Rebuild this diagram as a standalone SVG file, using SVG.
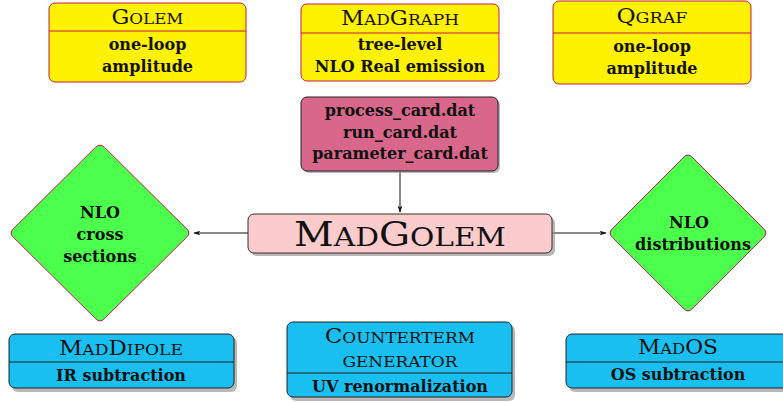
<svg xmlns="http://www.w3.org/2000/svg" width="783" height="403" viewBox="0 0 783 403">
<style>
.yel{fill:#fff200;stroke:#c8174f;stroke-width:1}
.div{stroke-width:1;fill:none}
.ydiv{stroke:#c8174f}
.bdiv{stroke:#222}
.blue{fill:#19bff0;stroke:#222;stroke-width:1}
.card{fill:#d9678c;stroke:#222;stroke-width:1}
.mg{fill:#fccbcb;stroke:#333;stroke-width:1}
.shadow{fill:#9a9a9a;opacity:0.7}
.dia{fill:#4cff4c;stroke:#c8174f;stroke-width:1}
.t{font-family:"DejaVu Serif","Liberation Serif",serif;fill:#111;text-anchor:middle}
.b{font-family:"DejaVu Serif","Liberation Serif",serif;font-weight:bold;font-size:16px;fill:#111;text-anchor:middle}
.conn{stroke:#111;stroke-width:1;fill:none}
</style>
<defs>
<marker id="arr" viewBox="0 0 10 10" refX="9" refY="5" markerWidth="7" markerHeight="7" orient="auto" markerUnits="userSpaceOnUse">
<path d="M0,1.5 L10,5 L0,8.5 L2.5,5 Z" fill="#111"/>
</marker>
</defs>

<g id="connectors">
<line class="conn" x1="400" y1="171" x2="400" y2="212" marker-end="url(#arr)"/>
<line class="conn" x1="248" y1="233" x2="194" y2="233" marker-end="url(#arr)"/>
<line class="conn" x1="552" y1="233" x2="606" y2="233" marker-end="url(#arr)"/>
</g>

<g id="golem">
<rect class="yel" x="49" y="3" width="197" height="79" rx="6"/>
<line class="div ydiv" x1="49" y1="31" x2="246" y2="31"/>
<text class="t" x="147.5" y="24" font-size="20" textLength="72" lengthAdjust="spacingAndGlyphs">G<tspan font-size="15">OLEM</tspan></text>
<text class="b" x="147.5" y="50">one-loop</text>
<text class="b" x="147.5" y="72">amplitude</text>
</g>

<g id="madgraph">
<rect class="yel" x="301" y="4" width="198" height="77" rx="6"/>
<line class="div ydiv" x1="301" y1="33" x2="499" y2="33"/>
<text class="t" x="400" y="25" font-size="20" textLength="118" lengthAdjust="spacingAndGlyphs">M<tspan font-size="15">AD</tspan>G<tspan font-size="15">RAPH</tspan></text>
<text class="b" x="400" y="50">tree-level</text>
<text class="b" x="400" y="72">NLO Real emission</text>
</g>

<g id="qgraf">
<rect class="yel" x="553" y="1" width="198" height="83" rx="6"/>
<line class="div ydiv" x1="553" y1="33" x2="751" y2="33"/>
<text class="t" x="652" y="23" font-size="20" textLength="71" lengthAdjust="spacingAndGlyphs">Q<tspan font-size="15">GRAF</tspan></text>
<text class="b" x="652" y="52">one-loop</text>
<text class="b" x="652" y="74">amplitude</text>
</g>

<g id="cards">
<rect class="shadow" x="303" y="99" width="197" height="74" rx="6"/>
<rect class="card" x="301" y="97" width="197" height="74" rx="6"/>
<text class="b" x="400" y="116">process_card.dat</text>
<text class="b" x="400" y="138">run_card.dat</text>
<text class="b" x="400" y="159">parameter_card.dat</text>
</g>

<g id="madgolem">
<rect class="shadow" x="251" y="217" width="304" height="39" rx="6"/>
<rect class="mg" x="248" y="214" width="304" height="39" rx="6"/>
<text class="t" x="400" y="246" font-size="34" textLength="212" lengthAdjust="spacingAndGlyphs">M<tspan font-size="26">AD</tspan>G<tspan font-size="26">OLEM</tspan></text>
</g>

<g id="nlo-cross-sections">
<path class="dia" d="M104.3,147.2 L186.7,228.8 Q191,233 186.7,237.2 L104.3,318.8 Q100,323 95.7,318.8 L13.3,237.2 Q9,233 13.3,228.8 L95.7,147.2 Q100,143 104.3,147.2 Z"/>
<text class="b" x="100" y="218">NLO</text>
<text class="b" x="100" y="240">cross</text>
<text class="b" x="100" y="262">sections</text>
</g>

<g id="nlo-distributions">
<path class="dia" d="M692.2,157.2 L763.8,228.8 Q768,233 763.8,237.2 L692.2,308.8 Q688,313 683.8,308.8 L612.2,237.2 Q608,233 612.2,228.8 L683.8,157.2 Q688,153 692.2,157.2 Z"/>
<text class="b" x="689" y="228">NLO</text>
<text class="b" x="693" y="250">distributions</text>
</g>

<g id="maddipole">
<rect class="shadow" x="12" y="337" width="225" height="55" rx="6"/>
<rect class="blue" x="9" y="334" width="225" height="54" rx="6"/>
<line class="div bdiv" x1="9" y1="362" x2="234" y2="362"/>
<text class="t" x="121" y="355" font-size="20" textLength="124" lengthAdjust="spacingAndGlyphs">M<tspan font-size="15">AD</tspan>D<tspan font-size="15">IPOLE</tspan></text>
<text class="b" x="121" y="381">IR subtraction</text>
</g>

<g id="counterterm">
<rect class="shadow" x="290" y="325" width="225" height="76" rx="6"/>
<rect class="blue" x="287" y="322" width="225" height="75" rx="6"/>
<line class="div bdiv" x1="287" y1="373" x2="512" y2="373"/>
<text class="t" x="400" y="343" font-size="20" textLength="150" lengthAdjust="spacingAndGlyphs">C<tspan font-size="15">OUNTERTERM</tspan></text>
<text class="t" x="400" y="367" font-size="15" textLength="115" lengthAdjust="spacingAndGlyphs">GENERATOR</text>
<text class="b" x="400" y="392">UV renormalization</text>
</g>

<g id="mados">
<rect class="shadow" x="569" y="337" width="225" height="55" rx="6"/>
<rect class="blue" x="566" y="334" width="225" height="54" rx="6"/>
<line class="div bdiv" x1="566" y1="362" x2="791" y2="362"/>
<text class="t" x="678" y="354" font-size="20" textLength="80" lengthAdjust="spacingAndGlyphs">M<tspan font-size="15">AD</tspan>OS</text>
<text class="b" x="678" y="380">OS subtraction</text>
</g>
</svg>
